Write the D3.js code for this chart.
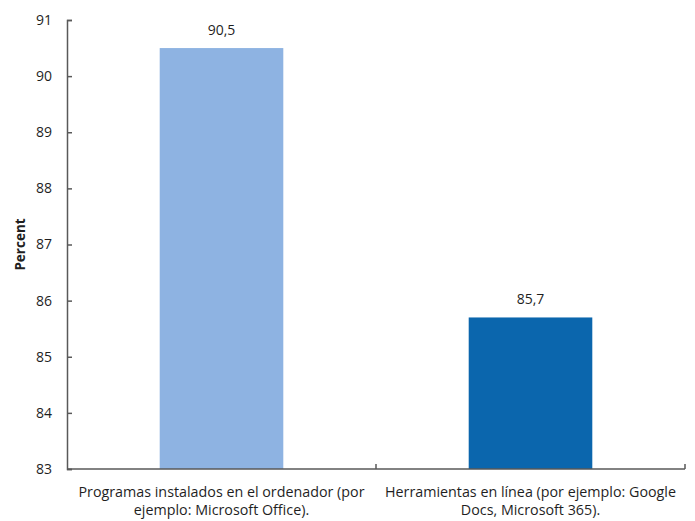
<!DOCTYPE html>
<html>
<head>
<meta charset="utf-8">
<script src="https://cdn.jsdelivr.net/npm/d3@7"></script>
<style>
  html, body { margin: 0; padding: 0; background: #fff; }
  svg { display: block; font-family: "Open Sans", "Noto Sans", sans-serif; }
</style>
</head>
<body>
<svg id="chart" width="695" height="521"></svg>
<script>
const categories = [
  ["Programas instalados en el ordenador (por", "ejemplo: Microsoft Office)."],
  ["Herramientas en línea (por ejemplo: Google", "Docs, Microsoft 365)."]
];
const values = [90.5, 85.7];
const barColors = ["#8EB3E2", "#0B66AD"];
const yTicks = [83, 84, 85, 86, 87, 88, 89, 90, 91];
const yTitle = "Percent";

const svg = d3.select("#chart");
const plotLeft = 67, plotRight = 685, plotTop = 20, plotBottom = 469;
const axisColor = "#595959";
const textColor = "#1f1f1f";

const x = d3.scaleBand()
  .domain(d3.range(values.length))
  .range([plotLeft, plotRight])
  .paddingInner(0.6)
  .paddingOuter(0.3);

const y = d3.scaleLinear().domain([83, 91]).range([plotBottom, plotTop]);

// bars
svg.append("g").selectAll("rect")
  .data(values)
  .join("rect")
  .attr("x", (d, i) => x(i))
  .attr("width", x.bandwidth())
  .attr("y", d => y(d))
  .attr("height", d => y(83) - y(d))
  .attr("fill", (d, i) => barColors[i]);

// value labels
const fmt = d => d3.format(".1f")(d).replace(".", ",");
svg.append("g").selectAll("text")
  .data(values)
  .join("text")
  .attr("x", (d, i) => x(i) + x.bandwidth() / 2)
  .attr("y", d => y(d) - 13)
  .attr("text-anchor", "middle")
  .attr("font-size", 14)
  .attr("fill", textColor)
  .text(fmt);

// y axis
const yAxis = svg.append("g")
  .attr("transform", `translate(${plotLeft},0)`)
  .call(d3.axisLeft(y).tickValues(yTicks).tickSizeInner(-5).tickSizeOuter(-5).tickPadding(15).tickFormat(d3.format("d")));
yAxis.selectAll("path, line").attr("stroke", axisColor).attr("stroke-width", 1.5);
yAxis.selectAll("text").attr("font-size", 14).attr("fill", textColor)
  .attr("font-family", "\"Open Sans\", \"Noto Sans\", sans-serif");

// x axis with boundary ticks between categories
const xg = svg.append("g");
xg.append("line")
  .attr("x1", plotLeft).attr("x2", plotRight)
  .attr("y1", plotBottom).attr("y2", plotBottom)
  .attr("stroke", axisColor).attr("stroke-width", 1.5);
const boundaries = d3.range(values.length + 1).map(i => plotLeft + i * x.step());
xg.selectAll("line.tick")
  .data(boundaries.slice(1))
  .join("line")
  .attr("class", "tick")
  .attr("x1", d => d).attr("x2", d => d)
  .attr("y1", plotBottom).attr("y2", plotBottom - 5)
  .attr("stroke", axisColor).attr("stroke-width", 1.5);

// category labels
const catG = svg.append("g").selectAll("text")
  .data(categories)
  .join("text")
  .attr("x", (d, i) => x(i) + x.bandwidth() / 2)
  .attr("y", 497)
  .attr("text-anchor", "middle")
  .attr("font-size", 14.3)
  .attr("fill", textColor);
catG.selectAll("tspan")
  .data(d => d)
  .join("tspan")
  .attr("x", function () { return this.parentNode.getAttribute("x"); })
  .attr("dy", (d, i) => i === 0 ? 0 : 18)
  .text(d => d);

// y title
svg.append("text")
  .attr("transform", `translate(25,${(plotTop + plotBottom) / 2}) rotate(-90)`)
  .attr("text-anchor", "middle")
  .attr("font-size", 13.5)
  .attr("font-weight", "bold")
  .attr("fill", textColor)
  .text(yTitle);
</script>
</body>
</html>
